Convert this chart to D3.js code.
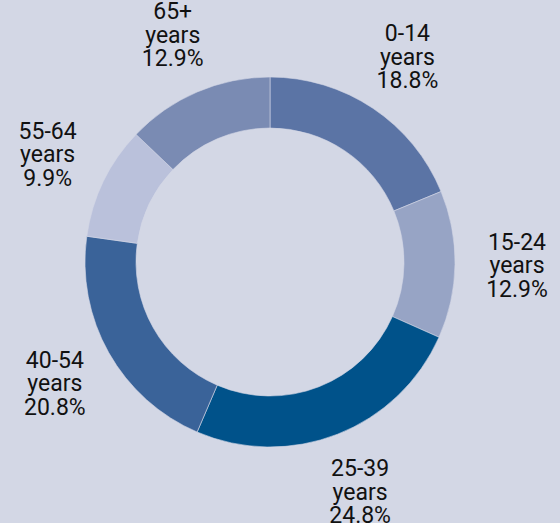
<!DOCTYPE html>
<html>
<head>
<meta charset="utf-8">
<script src="https://cdn.jsdelivr.net/npm/d3@7"></script>
<style>
  html, body { margin: 0; padding: 0; background: #d3d7e5; }
  svg { display: block; }
</style>
</head>
<body>
<div id="chart"></div>
<script>
const categories = ["0-14", "15-24", "25-39", "40-54", "55-64", "65+"];
const unitLabel = "years";
const values = [18.8, 12.9, 24.8, 20.8, 9.9, 12.9];
const colors = ["#5b74a5", "#97a4c5", "#00528a", "#3a6399", "#bac1db", "#7a8bb3"];

const W = 560, H = 523;
const cx = 270, cy = 262;
const outerR = 185, innerR = 134, labelR = 247;

const svg = d3.select("#chart").append("svg")
  .attr("width", W).attr("height", H);

svg.append("rect").attr("width", W).attr("height", H).attr("fill", "#d3d7e5");

const data = categories.map((c, i) => ({ cat: c, value: values[i], color: colors[i] }));

const pie = d3.pie().value(d => d.value).sort(null);
const arcs = pie(data);

const arc = d3.arc().innerRadius(innerR).outerRadius(outerR);
const labelArc = d3.arc().innerRadius(labelR).outerRadius(labelR);

const g = svg.append("g").attr("transform", `translate(${cx},${cy})`);

g.selectAll("path.slice").data(arcs).join("path")
  .attr("class", "slice")
  .attr("d", arc)
  .attr("fill", d => d.data.color)
  .attr("stroke", "#d3d7e5")
  .attr("stroke-width", 0.6);

const fmt = d3.format(".1f");
const lineH = 23.5;

const labels = g.selectAll("text.lbl").data(arcs).join("text")
  .attr("class", "lbl")
  .attr("text-anchor", "middle")
  .attr("font-family", "Roboto, sans-serif")
  .attr("font-size", 23)
  .attr("fill", "#111")
  .attr("transform", d => {
    const [x, y] = labelArc.centroid(d);
    return `translate(${x},${y})`;
  });

labels.each(function(d) {
  const t = d3.select(this);
  const lines = [d.data.cat, unitLabel, fmt(d.data.value) + "%"];
  lines.forEach((ln, i) => {
    t.append("tspan")
      .attr("x", 0)
      .attr("y", (i - 1) * lineH + 8)
      .text(ln);
  });
});
</script>
</body>
</html>
